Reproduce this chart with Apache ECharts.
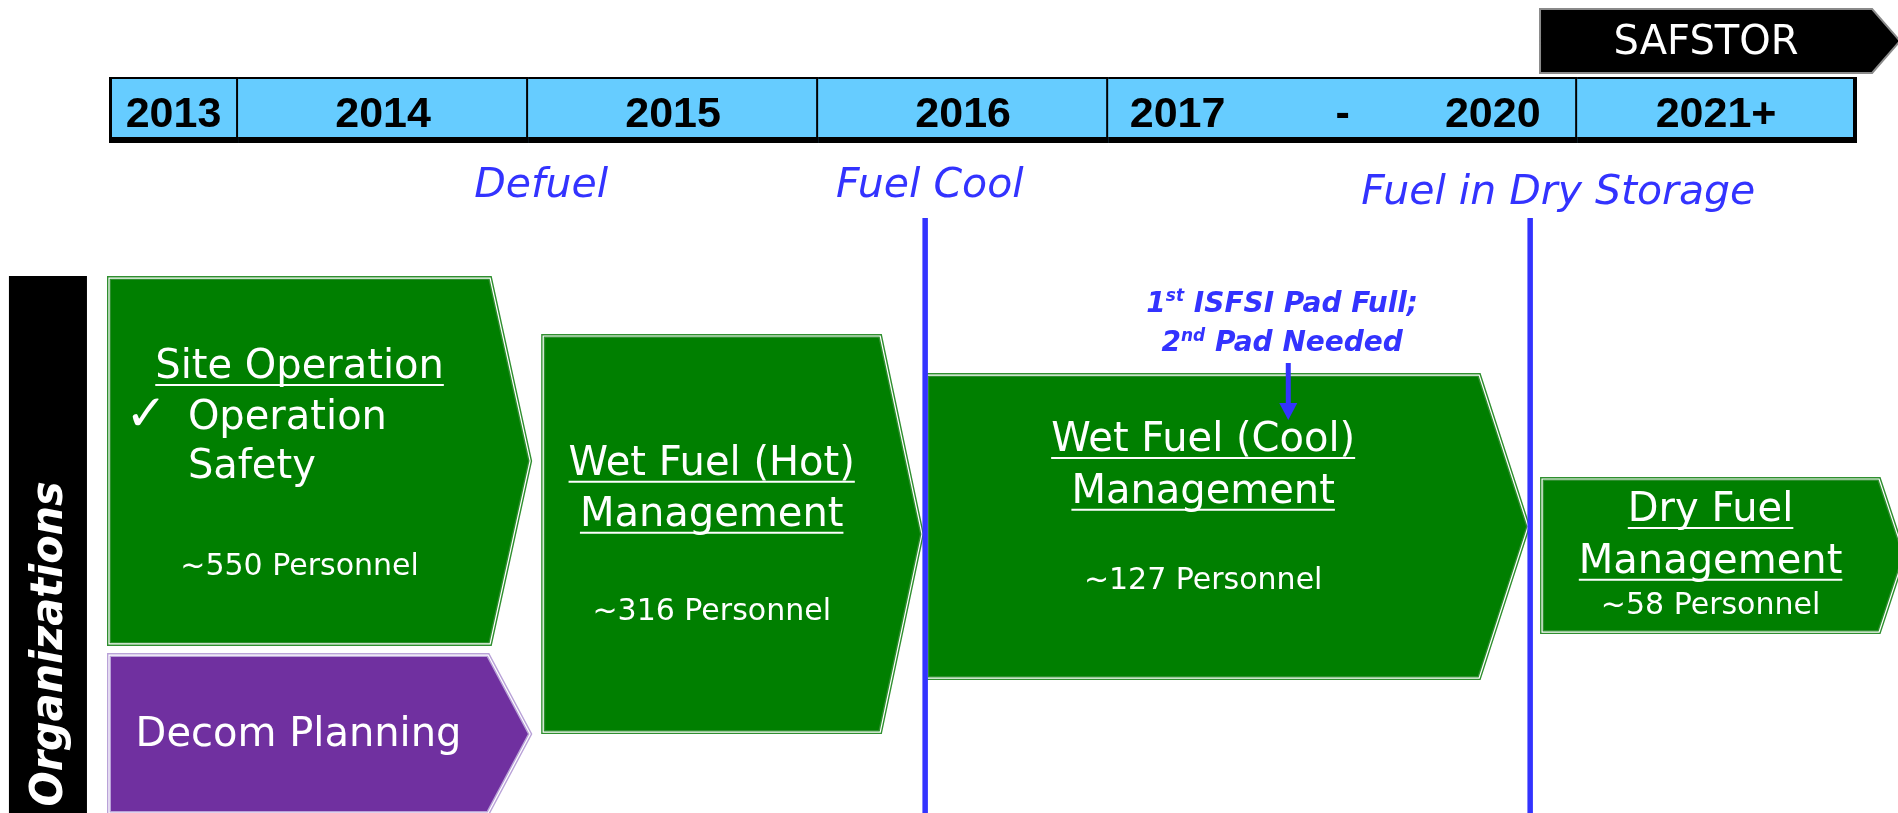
<!DOCTYPE html>
<html>
<head>
<meta charset="utf-8">
<title>Decommissioning organizations timeline</title>
<script src="https://cdn.jsdelivr.net/npm/echarts@6/dist/echarts.min.js"></script>
<style>
  html, body { margin: 0; padding: 0; background: #fff; }
  #chart { width: 1898px; height: 813px; }
</style>
</head>
<body>
<div id="chart"></div>
<script>
// x = timeline units (one full year column = 10), y = level 0..100 from the top
const years = ['2013', '2014', '2015', '2016', '2017 - 2020', '2021+'];
const yearEdges = [0, 4.45, 14.45, 24.45, 34.45, 50.62, 60.2];

const milestones = ['Defuel', 'Fuel Cool', 'Fuel in Dry Storage'];
const milestoneX = [14.9, 28.3, 49.97];
const phaseLines = [28.14, 49.0];

const orgNames = ['Site Operation', 'Decom Planning', 'Wet Fuel (Hot)\nManagement',
  'Wet Fuel (Cool)\nManagement', 'Dry Fuel\nManagement'];
const orgPersonnel = [550, null, 316, 127, 58];
const orgStart = [0, 0, 14.97, 28.21, 49.41];
const orgBodyEnd = [13.14, 13.07, 26.59, 47.24, 61.03];
const orgTip = [14.52, 14.52, 28.03, 48.93, 61.9];
const orgTop = [34.2, 80.57, 41.33, 46.13, 58.92];
const orgBottom = [79.2, 100, 90.04, 83.4, 77.74];
const siteBullets = ['Operation', 'Safety'];

const stageName = 'SAFSTOR';
const stageSpan = [49.34, 60.79, 61.75];
const padNote = ['1|st| ISFSI Pad Full;', '2|nd| Pad Needed'];
const padNoteX = 40.66;

// layout of texts / bands (not data)
const BAR = { top: 9.47, bottom: 17.59, text: 14.15 };
const STAGE = { top: 1.11, bottom: 8.98, text: 5.4 };
const milestoneY = [22.9, 22.9, 23.8];
const lineTop = 26.8;
const orgLabelY = [
  { title: [45.25], personnel: 69.73, bullets: [51.52, 57.55], check: [1.28, 51.3] },
  { title: [90.5] },
  { title: [57.18, 63.45], personnel: 75.3 },
  { title: [54.23, 60.62], personnel: 71.5 },
  { title: [62.84, 69.23], personnel: 74.6 }
];
const noteLayout = { x: 40.45, lines: [37.45, 42.27], arrowTop: 44.65, arrowTip: 51.66 };

const FONT = '"DejaVu Sans", Verdana, sans-serif';
const BLUE = '#3333ff';
const GREEN = '#007f00';
const PURPLE = '#7030a0';
const orgStyle = [
  { fill: GREEN, edge: '#2f8f2f', underline: true },
  { fill: PURPLE, edge: '#b9a2d8', underline: false },
  { fill: GREEN, edge: '#2f8f2f', underline: true },
  { fill: GREEN, edge: '#2f8f2f', underline: true },
  { fill: GREEN, edge: '#2f8f2f', underline: true }
];

const measureCtx = document.createElement('canvas').getContext('2d');
function textWidth(s, font) {
  measureCtx.font = font;
  return measureCtx.measureText(s).width;
}

function label(text, x, y, font, fill, align) {
  const a = align || 'center';
  return {
    type: 'text',
    style: {
      text: text, x: x, y: y, font: font, fill: fill,
      align: a, textAlign: a, verticalAlign: 'middle', textVerticalAlign: 'middle'
    }
  };
}

function seg(x1, y1, x2, y2, color, width) {
  return {
    type: 'line',
    shape: { x1: x1, y1: y1, x2: x2, y2: y2 },
    style: { stroke: color, lineWidth: width }
  };
}

// year header cells
function renderYear(params, api) {
  const i = params.dataIndex;
  const tl = api.coord([api.value(0), BAR.top]);
  const br = api.coord([api.value(1), BAR.bottom]);
  const ym = api.coord([0, BAR.text])[1];
  const font = 'bold 43px "Liberation Sans", Arial, sans-serif';
  const children = [{
    type: 'rect',
    shape: { x: tl[0], y: tl[1], width: br[0] - tl[0], height: br[1] - tl[1] },
    style: { fill: '#66ccff' }
  }];
  const parts = years[i].split(' - ');
  if (parts.length > 1) {
    const w = br[0] - tl[0];
    [[parts[0], 0.148], ['-', 0.5], [parts[1], 0.82]].forEach(function (p) {
      children.push(label(p[0], tl[0] + w * p[1], ym, font, '#000'));
    });
  } else {
    children.push(label(years[i], (tl[0] + br[0]) / 2, ym, font, '#000'));
  }
  children.push(seg(tl[0], tl[1] + 1, br[0], tl[1] + 1, '#000', 2));
  children.push(seg(tl[0], br[1] - 3, br[0] + 2, br[1] - 3, '#000', 6));
  children.push(seg(br[0], tl[1], br[0], br[1], '#000', 4));
  if (i === 0) children.push(seg(tl[0] + 1.5, tl[1], tl[0] + 1.5, br[1], '#000', 3));
  return { type: 'group', children: children };
}

// organization chevrons
function renderOrg(params, api) {
  const i = params.dataIndex;
  const x0 = api.value(0), y0 = api.value(1), xb = api.value(2), xt = api.value(3), y1 = api.value(4);
  const pts = [api.coord([x0, y0]), api.coord([xb, y0]), api.coord([xt, (y0 + y1) / 2]),
    api.coord([xb, y1]), api.coord([x0, y1])];
  const st = orgStyle[i];
  const lay = orgLabelY[i];
  const cx = (pts[0][0] + pts[1][0]) / 2;
  const titleFont = '40px ' + FONT;
  const children = [
    { type: 'polygon', shape: { points: pts }, style: { fill: st.fill, stroke: st.edge, lineWidth: 4 } },
    { type: 'polygon', shape: { points: pts }, style: { fill: 'none', stroke: '#fff', lineWidth: 1.2 } }
  ];
  orgNames[i].split('\n').forEach(function (t, k) {
    const y = api.coord([0, lay.title[k]])[1];
    children.push(label(t, cx, y, titleFont, '#fff'));
    if (st.underline) {
      const w = textWidth(t, titleFont);
      children.push(seg(cx - w / 2, y + 17, cx + w / 2, y + 17, '#fff', 2));
    }
  });
  if (lay.bullets) {
    siteBullets.forEach(function (b, k) {
      const p = api.coord([2.72, lay.bullets[k]]);
      children.push(label(b, p[0], p[1], titleFont, '#fff', 'left'));
    });
    const c = api.coord(lay.check);
    children.push(label('\u2713', c[0], c[1], '50px ' + FONT, '#fff'));
  }
  if (orgPersonnel[i] != null) {
    const y = api.coord([0, lay.personnel])[1];
    children.push(label('~' + orgPersonnel[i] + ' Personnel', cx, y, '30px ' + FONT, '#fff'));
  }
  return { type: 'group', children: children };
}

function renderMilestone(params, api) {
  const i = params.dataIndex;
  const p = api.coord([api.value(0), milestoneY[i]]);
  return label(milestones[i], p[0], p[1], 'italic 41px ' + FONT, BLUE);
}

function renderLine(params, api) {
  const a = api.coord([api.value(0), lineTop]);
  const b = api.coord([api.value(0), 100]);
  return seg(a[0], a[1], b[0], b[1], BLUE, 5.5);
}

function renderNote(params, api) {
  const children = [];
  const nFont = 'italic bold 28px ' + FONT;
  const sFont = 'italic bold 17px ' + FONT;
  padNote.forEach(function (line, k) {
    const p = api.coord([noteLayout.x, noteLayout.lines[k]]);
    const parts = line.split('|');
    children.push({
      type: 'text',
      style: {
        text: '{n|' + parts[0] + '}{s|' + parts[1] + '}{n|' + parts[2] + '}',
        x: p[0], y: p[1], fill: BLUE,
        align: 'center', textAlign: 'center', verticalAlign: 'middle', textVerticalAlign: 'middle',
        rich: {
          n: { font: nFont, fill: BLUE, lineHeight: 32 },
          s: { font: sFont, fill: BLUE, lineHeight: 16, verticalAlign: 'top' }
        }
      }
    });
  });
  const top = api.coord([padNoteX, noteLayout.arrowTop]);
  const tip = api.coord([padNoteX, noteLayout.arrowTip]);
  children.push(seg(top[0], top[1], tip[0], tip[1] - 14, BLUE, 5));
  children.push({
    type: 'polygon',
    shape: { points: [[tip[0] - 9, tip[1] - 17], [tip[0] + 9, tip[1] - 17], [tip[0], tip[1]]] },
    style: { fill: BLUE }
  });
  return { type: 'group', children: children };
}

function renderFrame(params, api) {
  // Organizations side bar
  const a = api.coord([-3.45, 33.95]);
  const b = api.coord([-0.76, 100]);
  const c = api.coord([-2.03, 79.2]);
  // SAFSTOR stage arrow
  const s0 = api.coord([stageSpan[0], STAGE.top]);
  const s1 = api.coord([stageSpan[1], STAGE.bottom]);
  const sTip = api.coord([stageSpan[2], (STAGE.top + STAGE.bottom) / 2]);
  const sText = api.coord([(stageSpan[0] + stageSpan[1]) / 2, STAGE.text]);
  return {
    type: 'group',
    children: [
      { type: 'rect', shape: { x: a[0], y: a[1], width: b[0] - a[0], height: b[1] - a[1] }, style: { fill: '#000' } },
      {
        type: 'text', x: c[0], y: c[1], rotation: Math.PI / 2, scaleX: 0.94,
        style: {
          text: 'Organizations', x: 0, y: 0, font: 'italic bold 44px ' + FONT, fill: '#fff',
          align: 'center', textAlign: 'center', verticalAlign: 'middle', textVerticalAlign: 'middle'
        }
      },
      {
        type: 'polygon',
        shape: { points: [[s0[0], s0[1]], [s1[0], s0[1]], sTip, [s1[0], s1[1]], [s0[0], s1[1]]] },
        style: { fill: '#000', stroke: '#8a8a8a', lineWidth: 2 }
      },
      label(stageName, sText[0], sText[1], '40px ' + FONT, '#fff')
    ]
  };
}

const chart = echarts.init(document.getElementById('chart'));
chart.setOption({
  animation: false,
  grid: { left: 109, right: 43, top: 0, bottom: 0 },
  xAxis: { type: 'value', min: 0, max: 60.2, show: false },
  yAxis: { type: 'value', min: 0, max: 100, inverse: true, show: false },
  series: [
    {
      type: 'custom', silent: true, z: 2, renderItem: renderYear,
      data: years.map(function (y, i) { return [yearEdges[i], yearEdges[i + 1]]; })
    },
    {
      type: 'custom', silent: true, z: 2, renderItem: renderOrg,
      data: orgNames.map(function (n, i) { return [orgStart[i], orgTop[i], orgBodyEnd[i], orgTip[i], orgBottom[i]]; })
    },
    {
      type: 'custom', silent: true, z: 3, renderItem: renderMilestone,
      data: milestoneX.map(function (x, i) { return [x, milestoneY[i]]; })
    },
    {
      type: 'custom', silent: true, z: 4, renderItem: renderLine,
      data: phaseLines.map(function (x) { return [x, lineTop]; })
    },
    {
      type: 'custom', silent: true, z: 5, renderItem: renderNote,
      data: [[padNoteX, noteLayout.arrowTop]]
    },
    {
      type: 'custom', silent: true, z: 5, renderItem: renderFrame,
      data: [[stageSpan[0], STAGE.top]]
    }
  ]
});
</script>
</body>
</html>
